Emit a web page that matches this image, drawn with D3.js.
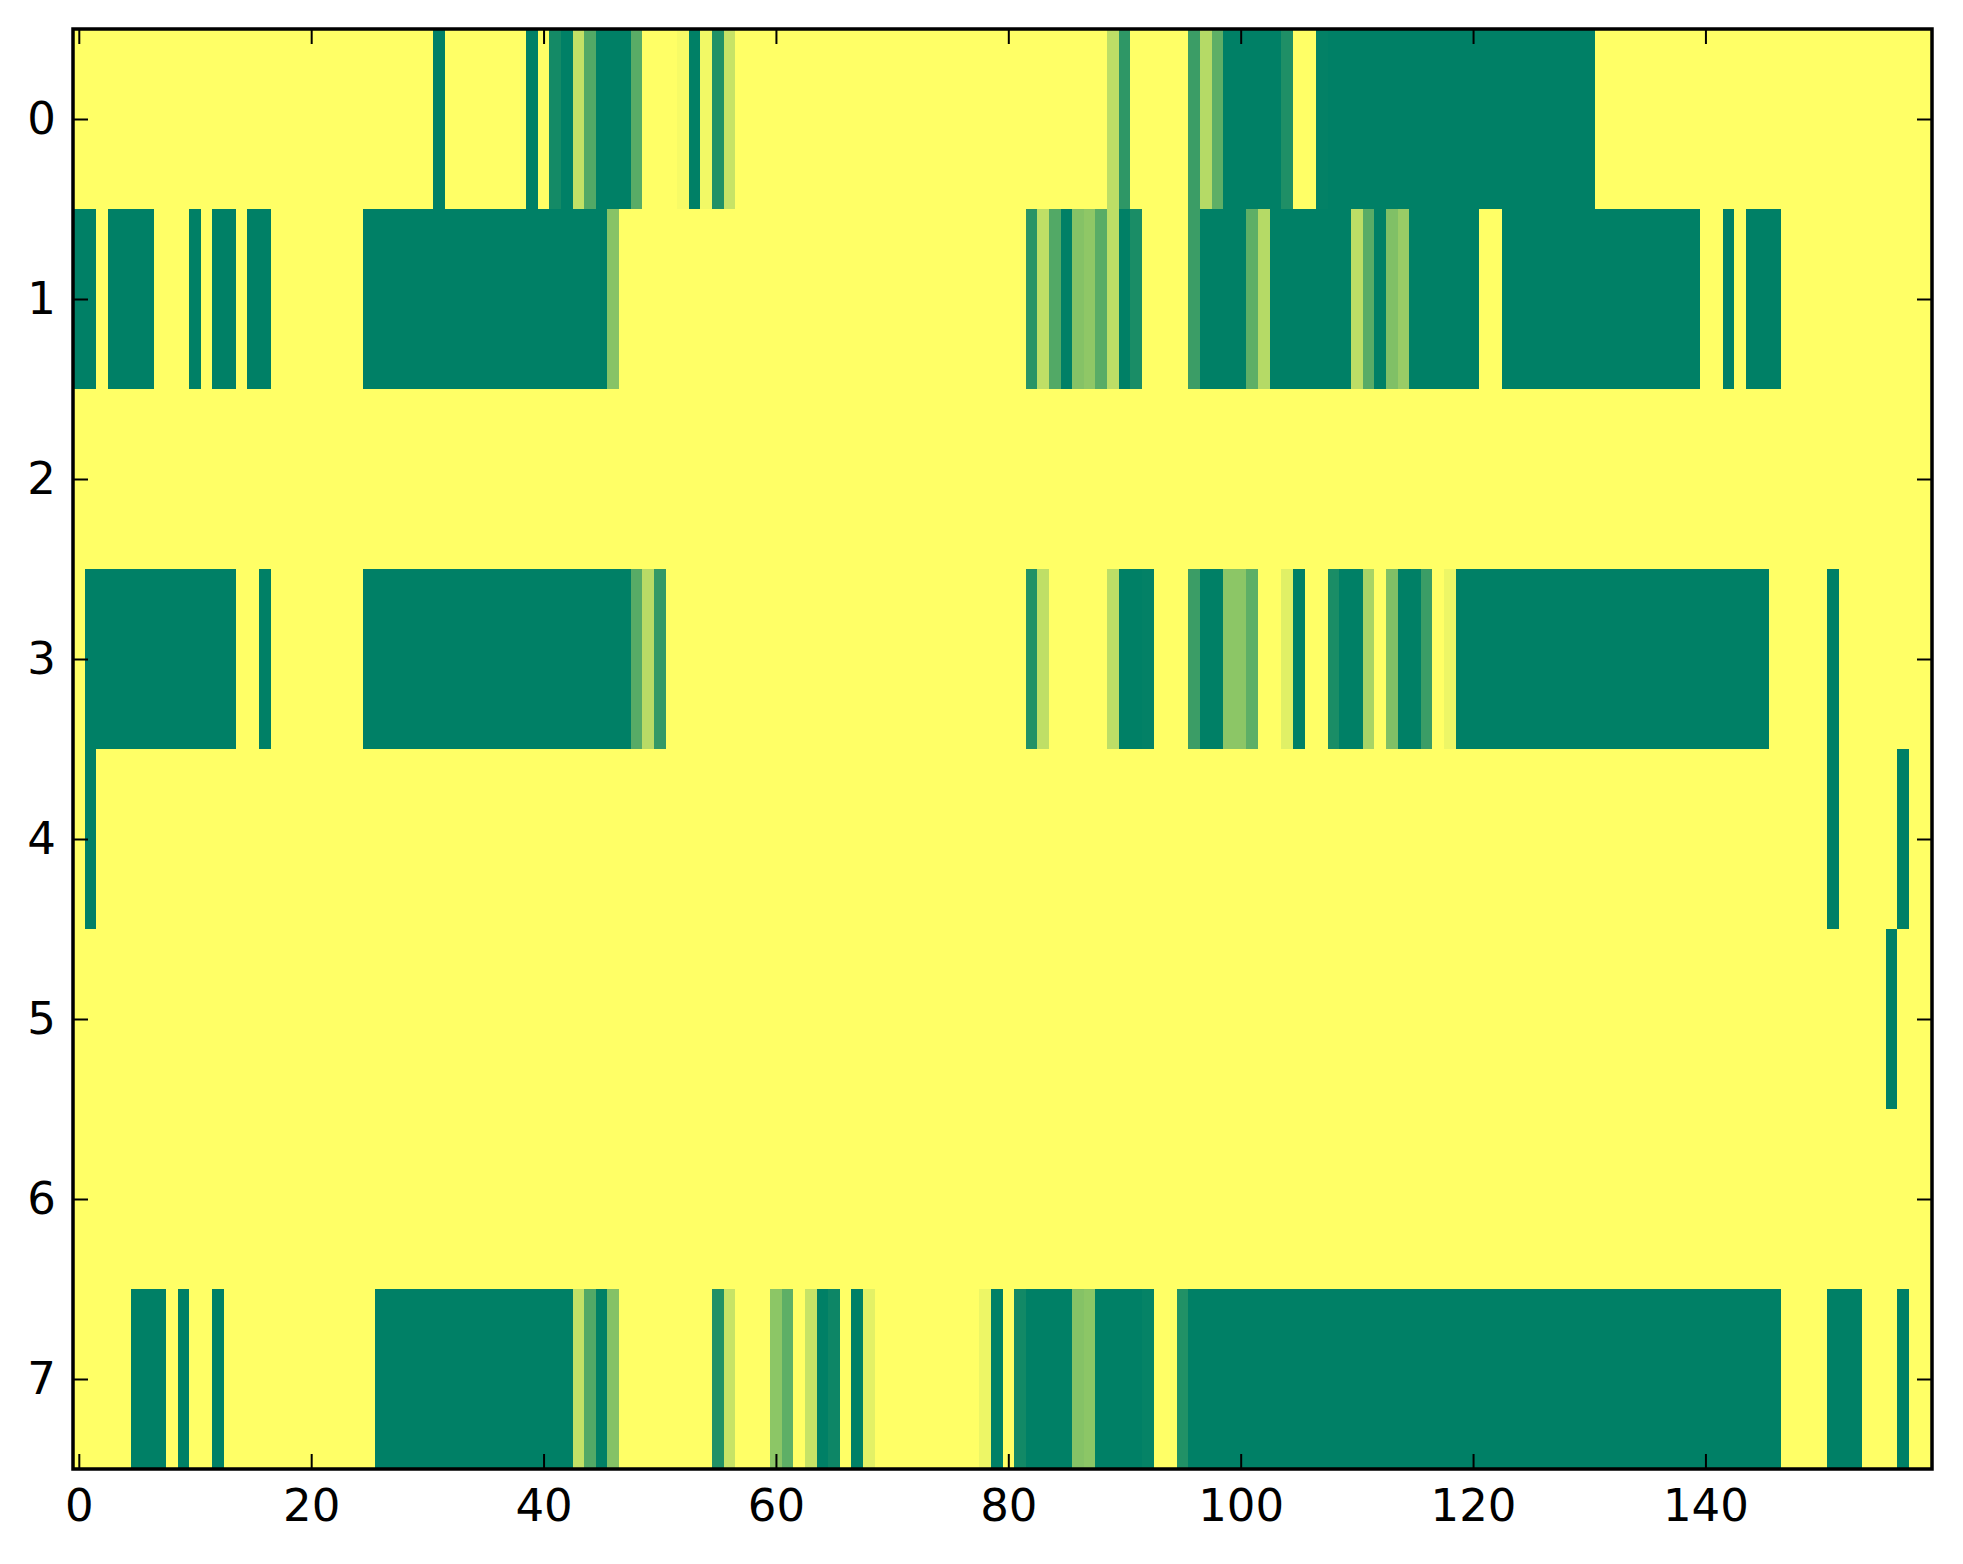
<!DOCTYPE html>
<html>
<head>
<meta charset="utf-8">
<script src="https://cdn.jsdelivr.net/npm/d3@7"></script>
<style>
    body { margin: 0; background: #fff; }
    .axis text { font-family: "DejaVu Sans", sans-serif; font-size: 45px; fill: #000; }
    .axis line { stroke: #000; stroke-width: 2; }
</style>
</head>
<body>
<div id="chart"></div>
<script>
// one array per image row, 160 cells each (0 = dark green, 1 = yellow)
var row0 = [
    1,1,1,1,1,1,1,1,1,1,1,1,1,1,1,1,1,1,1,1,
    1,1,1,1,1,1,1,1,1,1,1,0,1,1,1,1,1,1,1,0,
    1,.08,0,.76,.32,0,0,0,.35,1,1,1,.97,0,.95,.13,.78,1,1,1,
    1,1,1,1,1,1,1,1,1,1,1,1,1,1,1,1,1,1,1,1,
    1,1,1,1,1,1,1,1,1,.74,.18,1,1,1,1,1,.23,.71,.37,0,
    0,0,0,0,.12,1,1,.01,0,0,0,0,0,0,0,0,0,0,0,0,
    0,0,0,0,0,0,0,0,0,0,0,1,1,1,1,1,1,1,1,1,
    1,1,1,1,1,1,1,1,1,1,1,1,1,1,1,1,1,1,1,1
];
var row1 = [
    0,0,1,0,0,0,0,1,1,1,0,1,0,0,1,0,0,1,1,1,
    1,1,1,1,1,0,0,0,0,0,0,0,0,0,0,0,0,0,0,0,
    0,0,0,0,0,0,.53,1,1,1,1,1,1,1,1,1,1,1,1,1,
    1,1,1,1,1,1,1,1,1,1,1,1,1,1,1,1,1,1,1,1,
    1,1,.16,.75,.32,0,.52,.56,.35,.74,0,.10,1,1,1,1,.23,0,0,0,
    0,.37,.71,0,0,0,0,0,0,0,.74,.35,0,.5,.6,0,0,0,0,0,
    0,1,1,0,0,0,0,0,0,0,0,0,0,0,0,0,0,0,0,0,
    1,1,0,1,0,0,0,1,1,1,1,1,1,1,1,1,1,1,1,1
];
var row2 = [
    1,1,1,1,1,1,1,1,1,1,1,1,1,1,1,1,1,1,1,1,
    1,1,1,1,1,1,1,1,1,1,1,1,1,1,1,1,1,1,1,1,
    1,1,1,1,1,1,1,1,1,1,1,1,1,1,1,1,1,1,1,1,
    1,1,1,1,1,1,1,1,1,1,1,1,1,1,1,1,1,1,1,1,
    1,1,1,1,1,1,1,1,1,1,1,1,1,1,1,1,1,1,1,1,
    1,1,1,1,1,1,1,1,1,1,1,1,1,1,1,1,1,1,1,1,
    1,1,1,1,1,1,1,1,1,1,1,1,1,1,1,1,1,1,1,1,
    1,1,1,1,1,1,1,1,1,1,1,1,1,1,1,1,1,1,1,1
];
var row3 = [
    1,0,0,0,0,0,0,0,0,0,0,0,0,0,1,1,0,1,1,1,
    1,1,1,1,1,0,0,0,0,0,0,0,0,0,0,0,0,0,0,0,
    0,0,0,0,0,0,0,0,.34,.72,.2,1,1,1,1,1,1,1,1,1,
    1,1,1,1,1,1,1,1,1,1,1,1,1,1,1,1,1,1,1,1,
    1,1,.13,.75,1,1,1,1,1,.74,0,0,.01,1,1,1,.23,0,0,.55,
    .55,.37,1,1,.88,0,1,1,.1,0,0,.66,1,.5,0,0,.23,1,.93,0,
    0,0,0,0,0,0,0,0,0,0,0,0,0,0,0,0,0,0,0,0,
    0,0,0,0,0,0,1,1,1,1,1,0,1,1,1,1,1,1,1,1
];
var row4 = [
    1,0,1,1,1,1,1,1,1,1,1,1,1,1,1,1,1,1,1,1,
    1,1,1,1,1,1,1,1,1,1,1,1,1,1,1,1,1,1,1,1,
    1,1,1,1,1,1,1,1,1,1,1,1,1,1,1,1,1,1,1,1,
    1,1,1,1,1,1,1,1,1,1,1,1,1,1,1,1,1,1,1,1,
    1,1,1,1,1,1,1,1,1,1,1,1,1,1,1,1,1,1,1,1,
    1,1,1,1,1,1,1,1,1,1,1,1,1,1,1,1,1,1,1,1,
    1,1,1,1,1,1,1,1,1,1,1,1,1,1,1,1,1,1,1,1,
    1,1,1,1,1,1,1,1,1,1,1,0,1,1,1,1,1,0,1,1
];
var row5 = [
    1,1,1,1,1,1,1,1,1,1,1,1,1,1,1,1,1,1,1,1,
    1,1,1,1,1,1,1,1,1,1,1,1,1,1,1,1,1,1,1,1,
    1,1,1,1,1,1,1,1,1,1,1,1,1,1,1,1,1,1,1,1,
    1,1,1,1,1,1,1,1,1,1,1,1,1,1,1,1,1,1,1,1,
    1,1,1,1,1,1,1,1,1,1,1,1,1,1,1,1,1,1,1,1,
    1,1,1,1,1,1,1,1,1,1,1,1,1,1,1,1,1,1,1,1,
    1,1,1,1,1,1,1,1,1,1,1,1,1,1,1,1,1,1,1,1,
    1,1,1,1,1,1,1,1,1,1,1,1,1,1,1,1,0,1,1,1
];
var row6 = [
    1,1,1,1,1,1,1,1,1,1,1,1,1,1,1,1,1,1,1,1,
    1,1,1,1,1,1,1,1,1,1,1,1,1,1,1,1,1,1,1,1,
    1,1,1,1,1,1,1,1,1,1,1,1,1,1,1,1,1,1,1,1,
    1,1,1,1,1,1,1,1,1,1,1,1,1,1,1,1,1,1,1,1,
    1,1,1,1,1,1,1,1,1,1,1,1,1,1,1,1,1,1,1,1,
    1,1,1,1,1,1,1,1,1,1,1,1,1,1,1,1,1,1,1,1,
    1,1,1,1,1,1,1,1,1,1,1,1,1,1,1,1,1,1,1,1,
    1,1,1,1,1,1,1,1,1,1,1,1,1,1,1,1,1,1,1,1
];
var row7 = [
    1,1,1,1,1,0,0,0,1,0,1,1,0,1,1,1,1,1,1,1,
    1,1,1,1,1,1,0,0,0,0,0,0,0,0,0,0,0,0,0,0,
    0,0,0,.76,.32,0,.52,1,1,1,1,1,1,1,1,.13,.78,1,1,1,
    .55,.37,1,.78,0,.05,1,0,.89,1,1,1,1,1,1,1,1,1,.93,0,
    1,.07,0,0,0,0,.52,.55,0,0,0,0,.02,1,1,.13,0,0,0,0,
    0,0,0,0,0,0,0,0,0,0,0,0,0,0,0,0,0,0,0,0,
    0,0,0,0,0,0,0,0,0,0,0,0,0,0,0,0,0,0,0,0,
    0,0,0,0,0,0,0,1,1,1,1,0,0,0,1,1,1,0,1,1
];
var rows = [row0, row1, row2, row3, row4, row5, row6, row7];

var xTicks = [0, 20, 40, 60, 80, 100, 120, 140];
var yTicks = [0, 1, 2, 3, 4, 5, 6, 7];

var margin = {top: 29, right: 31, bottom: 95, left: 73};
var width = 1963 - margin.left - margin.right;
var height = 1564 - margin.top - margin.bottom;

var svg = d3.select("#chart").append("svg")
    .attr("width", 1963)
    .attr("height", 1564)
    .append("g")
    .attr("transform", "translate(" + margin.left + "," + margin.top + ")");

var nCols = row0.length;
var x = d3.scaleLinear().domain([-0.5, nCols - 0.5]).range([0, width]);
var y = d3.scaleLinear().domain([-0.5, rows.length - 0.5]).range([0, height]);

// matplotlib "summer": (v, 0.5 + 0.5v, 0.4)
var color = d3.scaleLinear().domain([0, 1])
    .range(["#008066", "#ffff66"])
    .interpolate(d3.interpolateRgb);

var cells = [];
rows.forEach(function(r, i){
    r.forEach(function(v, j){
        cells.push({row: i, col: j, value: v});
    });
});

svg.selectAll("rect.cell")
    .data(cells)
    .enter().append("rect")
    .attr("class", "cell")
    .attr("x", function(d){ return x(d.col - 0.5); })
    .attr("y", function(d){ return y(d.row - 0.5); })
    .attr("width", function(d){ return x(d.col + 0.5) - x(d.col - 0.5); })
    .attr("height", function(d){ return y(d.row + 0.5) - y(d.row - 0.5); })
    .attr("fill", function(d){ return color(d.value); })
    .attr("shape-rendering", "crispEdges");

// ticks point inwards on all four sides
var tickLen = 15;

svg.append("g")
    .attr("class", "axis")
    .attr("transform", "translate(0," + height + ")")
    .call(d3.axisBottom(x).tickValues(xTicks).tickSizeInner(-tickLen).tickSizeOuter(0).tickPadding(20));

svg.append("g")
    .attr("class", "axis")
    .call(d3.axisTop(x).tickValues(xTicks).tickSizeInner(-tickLen).tickSizeOuter(0).tickFormat(""));

svg.append("g")
    .attr("class", "axis")
    .call(d3.axisLeft(y).tickValues(yTicks).tickSizeInner(-tickLen).tickSizeOuter(0).tickPadding(17));

svg.append("g")
    .attr("class", "axis")
    .attr("transform", "translate(" + width + ",0)")
    .call(d3.axisRight(y).tickValues(yTicks).tickSizeInner(-tickLen).tickSizeOuter(0).tickFormat(""));

svg.selectAll(".axis .domain").remove();

svg.append("rect")
    .attr("width", width)
    .attr("height", height)
    .attr("fill", "none")
    .attr("stroke", "#000")
    .attr("stroke-width", 3.5);
</script>
</body>
</html>
